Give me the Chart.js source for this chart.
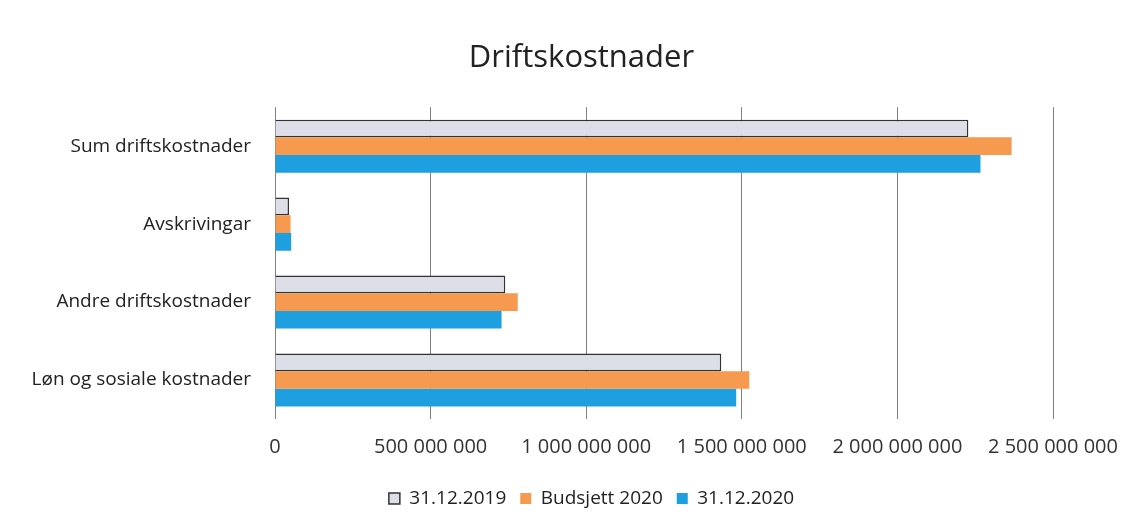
<!DOCTYPE html>
<html>
<head>
<meta charset="utf-8">
<script src="https://cdn.jsdelivr.net/npm/chart.js@4"></script>
<style>
html,body{margin:0;padding:0;background:#fff;}
#wrap{width:1141px;height:529px;position:relative;}
</style>
</head>
<body>
<div id="wrap"><canvas id="c" width="1141" height="529"></canvas></div>
<script>
const categories = ["Sum driftskostnader", "Avskrivingar", "Andre driftskostnader", "Løn og sosiale kostnader"];
const seriesNames = ["31.12.2019", "Budsjett 2020", "31.12.2020"];
const values2019 = [2228000000, 45000000, 740000000, 1434000000];
const budget2020 = [2367000000, 50000000, 780000000, 1524000000];
const values2020 = [2267000000, 52000000, 728000000, 1482000000];
const tickValues = [0, 500000000, 1000000000, 1500000000, 2000000000, 2500000000];

function fmt(v){ return v === 0 ? "0" : String(Math.round(v)).replace(/\B(?=(\d{3})+(?!\d))/g, " "); }

const FONT = "'Open Sans', 'Liberation Sans', sans-serif";

const shiftBoxes = {
  id: 'shiftBoxes',
  afterLayout(chart) {
    const t = chart.titleBlock;
    if (t) { t.left += 50; t.right += 50; }
    const l = chart.legend;
    if (l) { l.left += 60; l.right += 60; }
  }
};

new Chart(document.getElementById('c'), {
  type: 'bar',
  data: {
    labels: categories,
    datasets: [
      { label: seriesNames[0], data: values2019, backgroundColor: '#dcdfe8', borderColor: '#333', borderWidth: 1.5, borderSkipped: 'left' },
      { label: seriesNames[1], data: budget2020, backgroundColor: '#f59a4e', borderColor: '#f08030', borderWidth: 0 },
      { label: seriesNames[2], data: values2020, backgroundColor: '#1e9fe0', borderWidth: 0 }
    ]
  },
  plugins: [shiftBoxes],
  options: {
    indexAxis: 'y',
    responsive: false,
    animation: false,
    layout: { padding: { left: 10, right: 88, top: 0, bottom: 11 } },
    datasets: { bar: { categoryPercentage: 0.68, barPercentage: 1.0 } },
    plugins: {
      title: { display: true, text: 'Driftskostnader', color: '#222', font: { family: FONT, size: 31, weight: 'normal' }, padding: { top: 40, bottom: 30 } },
      legend: { position: 'bottom', labels: { color: '#222', font: { family: FONT, size: 19 }, boxWidth: 11, boxHeight: 11, padding: 14 } },
      tooltip: { enabled: false }
    },
    scales: {
      x: {
        min: 0, max: 2500000000,
        afterBuildTicks: (s) => { s.ticks = tickValues.map(v => ({ value: v })); },
        ticks: { color: '#333', font: { family: FONT, size: 20 }, padding: 16, callback: (v) => fmt(v), maxRotation: 0 },
        grid: { color: '#808080', lineWidth: 1, drawTicks: false },
        border: { display: false }
      },
      y: {
        afterFit: (s) => { s.width = 265; },
        ticks: { color: '#222', font: { family: FONT, size: 19 }, padding: 16 },
        grid: { display: false },
        border: { display: false }
      }
    }
  }
});
</script>
</body>
</html>
